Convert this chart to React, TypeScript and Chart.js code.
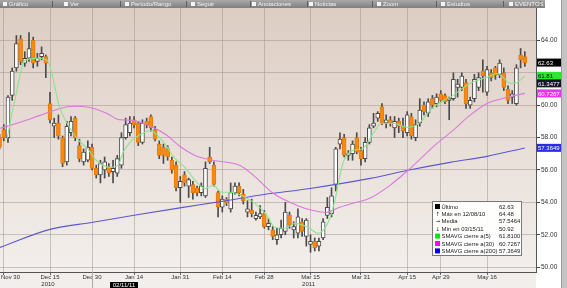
import React, { useEffect, useRef } from 'react';
import { Chart, registerables } from 'chart.js';

Chart.register(...registerables);

// ---- price data (trading-day index 0 = Nov 29 2010 ... 125 = May 27 2011)
const opens = [
  58.0, 58.5, 58.0, 60.6, 62.3, 64.1, 62.6, 62.9, 64.0, 62.7,
  63.0, 63.0, 60.1, 58.7, 58.9, 58.0, 56.5, 58.3, 59.2, 57.5,
  56.5, 56.6, 57.4, 56.1, 55.7, 56.0, 56.2, 55.9, 55.8, 56.3,
  58.0, 58.3, 59.1, 58.9, 57.7, 59.0, 59.3, 58.5, 57.6, 57.4,
  57.3, 56.6, 56.3, 54.9, 55.7, 55.0, 55.1, 54.9, 54.6, 54.4,
  56.8, 56.3, 54.6, 53.7, 54.2, 53.6, 54.6, 55.0, 54.5, 53.4,
  53.5, 53.0, 53.1, 53.3, 52.5, 52.3, 51.7, 52.0, 52.2, 53.2,
  52.3, 52.1, 52.8, 51.9, 51.4, 51.6, 51.3, 51.8, 53.2, 53.3,
  55.1, 57.6, 58.0, 56.9, 57.0, 58.0, 57.2, 56.7, 57.7, 58.7,
  59.2, 59.9, 58.9, 59.1, 58.6, 59.0, 58.7, 58.3, 59.3, 58.0,
  58.9, 60.0, 59.5, 60.4, 60.1, 60.7, 60.6, 60.3, 60.4, 61.1,
  61.1, 61.4, 60.0, 60.4, 61.1, 62.1, 60.8, 62.0, 62.3, 61.9,
  62.0, 61.0, 60.5, 60.1, 63.1, 63.0,
];
const highs = [
  58.2, 58.8, 60.6, 62.3, 64.3, 64.3, 63.3, 64.48, 64.2, 63.2,
  63.6, 63.1, 60.8, 59.2, 59.4, 58.1, 59.0, 59.3, 59.3, 57.9,
  57.3, 57.8, 57.6, 56.3, 56.6, 56.8, 56.4, 56.6, 56.9, 58.3,
  59.2, 59.3, 59.3, 59.0, 59.1, 59.2, 59.4, 58.7, 57.8, 57.6,
  57.5, 56.8, 56.5, 55.6, 55.9, 55.5, 55.3, 55.0, 55.2, 56.5,
  57.4, 56.5, 54.7, 54.4, 54.3, 55.2, 55.2, 55.2, 54.8, 54.1,
  54.2, 53.4, 53.8, 53.5, 53.0, 52.5, 52.4, 52.9, 54.0, 53.4,
  52.8, 53.6, 53.0, 53.0, 52.0, 51.8, 51.8, 53.0, 54.3, 54.9,
  57.4, 58.3, 58.2, 57.2, 57.8, 58.3, 57.4, 58.0, 58.8, 59.5,
  59.6, 60.1, 59.4, 59.3, 59.3, 59.2, 59.2, 59.6, 59.5, 59.1,
  60.4, 60.2, 60.4, 60.6, 60.7, 60.9, 60.7, 60.5, 62.0, 61.6,
  62.0, 61.6, 60.5, 61.9, 62.0, 62.8, 62.4, 62.2, 62.4, 62.8,
  62.3, 61.2, 60.9, 62.5, 63.5, 63.3,
];
const lows = [
  57.3, 57.8, 57.7, 60.3, 62.1, 62.5, 62.4, 62.7, 62.3, 62.4,
  62.8, 61.7, 58.9, 58.0, 57.9, 56.2, 56.3, 58.1, 57.8, 56.5,
  56.3, 56.5, 56.0, 55.5, 55.2, 55.5, 55.6, 55.2, 55.6, 56.1,
  57.9, 58.1, 58.6, 57.5, 57.6, 58.6, 58.4, 57.8, 56.7, 56.4,
  56.6, 55.8, 54.7, 54.0, 55.0, 54.3, 54.2, 54.4, 54.4, 54.3,
  56.4, 55.0, 53.1, 53.4, 53.8, 53.4, 54.5, 54.4, 53.9, 53.1,
  53.1, 52.9, 53.0, 52.4, 52.3, 51.7, 51.4, 51.8, 52.0, 52.4,
  51.8, 51.8, 51.9, 51.3, 50.92, 51.0, 51.0, 51.7, 53.0, 53.1,
  54.7, 57.3, 56.8, 56.6, 56.6, 57.0, 56.3, 56.5, 57.6, 58.6,
  59.0, 58.8, 58.6, 58.7, 58.0, 58.3, 58.0, 58.1, 57.9, 57.8,
  58.7, 59.4, 59.3, 59.8, 59.9, 60.2, 60.1, 59.1, 60.3, 60.5,
  60.9, 59.8, 59.8, 60.2, 60.9, 60.8, 60.6, 61.5, 61.6, 61.7,
  60.9, 60.1, 60.1, 60.0, 62.3, 62.4,
];
const closes = [
  57.4, 58.0, 60.5, 62.1, 63.8, 62.7, 62.9, 63.5, 62.6, 62.9,
  63.2, 62.6, 59.1, 58.9, 58.1, 56.4, 58.7, 59.0, 58.0, 56.7,
  57.1, 57.4, 56.1, 55.7, 56.4, 56.5, 55.8, 56.1, 56.7, 58.0,
  58.8, 58.9, 58.8, 57.7, 58.9, 58.8, 58.6, 57.9, 56.9, 56.9,
  56.8, 56.0, 54.9, 55.3, 55.2, 55.4, 54.6, 54.6, 55.0, 56.1,
  56.5, 55.1, 53.7, 54.2, 53.95, 54.6, 55.0, 54.6, 54.1, 53.6,
  53.3, 53.2, 53.3, 52.5, 52.7, 51.9, 52.0, 52.4, 53.4, 52.6,
  52.5, 53.1, 52.2, 52.9, 51.6, 51.2, 51.6, 52.8, 53.7, 54.4,
  57.3, 57.9, 56.9, 57.0, 57.6, 57.1, 56.7, 57.7, 58.6, 58.9,
  59.5, 58.9, 59.1, 58.9, 59.0, 58.7, 58.4, 59.4, 58.1, 58.8,
  59.7, 59.6, 60.2, 60.0, 60.5, 60.3, 60.2, 60.4, 61.6, 61.3,
  61.8, 60.1, 60.3, 61.6, 61.7, 61.8, 62.2, 61.7, 61.85, 62.6,
  61.1, 60.3, 60.7, 62.3, 62.8, 62.63,
];

// ---- moving averages (trading-day index, value)
const sma5Idx = [1.8, 3.7, 6.05, 9, 11.3, 14.4, 18.4, 21, 23, 26.3, 28.2, 29.4, 31.5, 34.1, 35.8, 38.7, 41.7, 44.1, 46.5, 48.9, 50.8, 52.9, 55.3, 58.4, 60.8, 63.6, 65.5, 67.9, 70.3, 73.4, 75.8, 77.4, 78.6, 79.8, 81.7, 84.1, 86.5, 88.9, 91.0, 93.6, 97.0, 100.1, 102.4, 104.8, 107.2, 112.0, 116.0, 118.4, 119.8, 121.5, 123.1, 125];
const sma5Val = [57.95, 60.4, 62.77, 62.9, 62.77, 59.8, 57.95, 57.3, 56.6, 56.16, 56.28, 57.09, 57.83, 58.26, 58.44, 57.83, 56.72, 56.16, 55.36, 54.86, 55.05, 54.62, 54.62, 54.31, 53.94, 53.2, 52.46, 52.4, 52.7, 52.46, 52.09, 52.4, 53.0, 54.12, 56.4, 57.2, 57.33, 58.26, 58.88, 58.88, 58.63, 58.94, 59.68, 60.17, 60.48, 61.35, 61.72, 61.96, 61.72, 61.35, 61.4, 61.81];

const sma30Idx = [0.1, 4.9, 9.6, 14.4, 17.5, 21.5, 25.6, 28.2, 31.8, 36.5, 39.8, 42.9, 46.5, 50.8, 57.2, 60.3, 65.1, 70.8, 74.6, 77.9, 80.3, 84.1, 88.1, 92.9, 97.2, 104.1, 107.9, 111.9, 116, 120.8, 125];
const sma30Val = [58.57, 58.94, 59.37, 59.8, 59.93, 59.86, 59.49, 59.12, 59.06, 58.63, 58.14, 57.46, 56.9, 56.6, 56.28, 55.7, 54.56, 53.81, 53.5, 53.38, 53.63, 53.94, 54.25, 55.05, 55.98, 57.64, 58.44, 59.37, 60.11, 60.48, 60.73];

const sma200Idx = [0.1, 12, 22.2, 32, 42.9, 52.9, 62.9, 73.9, 88.2, 97.2, 107.2, 116, 125];
const sma200Val = [51.22, 52.33, 52.77, 53.2, 53.66, 54.06, 54.49, 54.86, 55.48, 55.98, 56.47, 56.84, 57.36];

// ---- axis labels
const tickIdx = [1, 12, 22, 32, 43, 53, 63, 74, 86, 97, 105, 116];
const tickLabels = ['Nov 30', 'Dec 15', 'Dec 30', 'Jan 14', 'Jan 31', 'Feb 14', 'Feb 28', 'Mar 15', 'Mar 31', 'Apr 15', 'Apr 29', 'May 16'];
const yearIdx = [12, 74];
const yearLabels = ['2010', '2011'];
const yTicks = [50, 52, 54, 56, 58, 60, 62, 64];
const yHiddenLabels = [62];

// ---- legend / badges
const legendLabels = ['Último', 'Máx en 12/08/10', 'Media', 'Mín en 03/15/11', 'SMAVG cierre a(5)', 'SMAVG cierre a(30)', 'SMAVG cierre a(200)'];
const legendValues = ['62.63', '64.48', '57.5464', '50.92', '61.8100', '60.7267', '57.3649'];
const badgeValues = [62.63, 61.81, 61.3477, 60.7267, 57.3649];
const badgeTexts = ['62.63', '61.81', '61.3477', '60.7267', '57.3649'];
const toolItems = ['Gráfico', 'Ver', 'Período/Rango', 'Seguir', 'Anotaciones', 'Noticias', 'Zoom', 'Estudios', 'EVENTOS'];

// ---- styling (not data)
const C_GREEN = '#8ee38e';
const C_MAG = '#d97ad9';
const C_BLUE = '#5d56d6';
const C_ORANGE = '#f88a12';
const toolX = [9, 70, 131, 197, 258, 315, 383, 447, 515];
const toolDiv = [52, 120, 186, 250, 307, 372, 436, 503, 540];
const badgeBg = ['#000000', '#2ee82e', '#14142a', '#f030f0', '#2a2ae8'];
const badgeFg = ['#ffffff', '#000000', '#ffffff', '#ffffff', '#ffffff'];
const legendSwatch = ['#000000', null, null, null, '#00ee00', '#ff00ff', '#0000ff'];
const legendGlyph = [null, '↑', '→', '↓', null, null, null];

const bgPlugin = {
  id: 'bgPlugin',
  beforeDraw(chart: any) {
    const { ctx, chartArea: a, width, height } = chart;
    ctx.save();
    ctx.fillStyle = '#ffffff';
    ctx.fillRect(0, 0, width, height);
    ctx.fillStyle = '#f1eeec';
    ctx.fillRect(0, a.bottom, a.right, height - a.bottom);
    const g = ctx.createLinearGradient(0, a.top, 0, a.bottom);
    g.addColorStop(0, '#ddcdc3');
    g.addColorStop(1, '#f3efec');
    ctx.fillStyle = g;
    ctx.fillRect(a.left, a.top, a.right - a.left, a.bottom - a.top);
    // right scrollbar strip
    ctx.fillStyle = '#c4c4c4';
    ctx.fillRect(561, 0, width - 561, height);
    ctx.fillStyle = '#9a9a9a';
    ctx.fillRect(561, 0, 1, height);
    // toolbar
    const tg = ctx.createLinearGradient(0, 0, 0, a.top);
    tg.addColorStop(0, '#a9a9a9');
    tg.addColorStop(1, '#7f7f7f');
    ctx.fillStyle = tg;
    ctx.fillRect(0, 0, 545, a.top);
    ctx.fillStyle = '#5e5e5e';
    toolDiv.forEach((x) => ctx.fillRect(x, 1, 1, a.top - 2));
    ctx.font = '6px "Liberation Sans"';
    ctx.textBaseline = 'middle';
    ctx.textAlign = 'left';
    ctx.fillStyle = '#f4f4f4';
    toolItems.forEach((t, k) => {
      ctx.fillRect(toolX[k] - 6, 2, 4, 4);
      ctx.fillText(t, toolX[k], a.top / 2);
    });
    ctx.restore();
  },
};

const overlayPlugin = {
  id: 'overlayPlugin',
  afterDraw(chart: any) {
    const { ctx, chartArea: a, height } = chart;
    const xs = chart.scales.x;
    const ys = chart.scales.y;
    ctx.save();
    // x labels
    ctx.font = '6px "Liberation Sans"';
    ctx.fillStyle = '#333333';
    ctx.textBaseline = 'middle';
    ctx.textAlign = 'center';
    tickIdx.forEach((v, k) => {
      const w = ctx.measureText(tickLabels[k]).width;
      const px = Math.max(xs.getPixelForValue(v), 1 + w / 2);
      ctx.fillText(tickLabels[k], px, a.bottom + 5);
    });
    yearIdx.forEach((v, k) => {
      ctx.fillText(yearLabels[k], xs.getPixelForValue(v) - 2, a.bottom + 12.5);
    });
    // year separator under the axis
    ctx.fillStyle = '#b0aaa6';
    ctx.fillRect(Math.round(xs.getPixelForValue(22)), a.bottom, 1, height - a.bottom);
    // cursor date box
    ctx.fillStyle = '#000000';
    ctx.fillRect(110, a.bottom + 10, 28, height - a.bottom - 10);
    ctx.fillStyle = '#ffffff';
    ctx.fillText('02/11/11', 124, a.bottom + 13.5);

    // price badges on the right axis
    ctx.font = '6px "Liberation Sans"';
    ctx.textAlign = 'left';
    badgeValues.forEach((v, k) => {
      const py = ys.getPixelForValue(v);
      ctx.fillStyle = badgeBg[k];
      ctx.fillRect(a.right + 1, py - 4, 24, 8);
      ctx.fillStyle = badgeFg[k];
      ctx.fillText(badgeTexts[k], a.right + 2, py + 0.5);
    });

    // legend box
    const lx = 432, ly = 201, lw = 89, lh = 54;
    ctx.fillStyle = 'rgba(255,255,255,0.93)';
    ctx.fillRect(lx, ly, lw, lh);
    ctx.strokeStyle = '#7a7a7a';
    ctx.lineWidth = 1;
    ctx.strokeRect(lx + 0.5, ly + 0.5, lw, lh);
    ctx.font = '5.9px "Liberation Sans"';
    legendLabels.forEach((t, k) => {
      const ry = ly + 5.5 + k * 7.4;
      if (legendSwatch[k]) {
        ctx.fillStyle = legendSwatch[k] as string;
        ctx.fillRect(lx + 3, ry - 2.5, 5, 5);
      }
      ctx.fillStyle = '#222222';
      if (legendGlyph[k]) {
        ctx.font = '5.5px "DejaVu Sans"';
        ctx.fillText(legendGlyph[k] as string, lx + 3.5, ry + 0.5);
        ctx.font = '5.9px "Liberation Sans"';
      }
      ctx.fillText(t, lx + 9.5, ry + 0.5);
      ctx.fillText(legendValues[k], lx + 67, ry + 0.5);
    });
    ctx.restore();
  },
};

export default function App() {
  const ref = useRef<HTMLCanvasElement | null>(null);
  useEffect(() => {
    document.body.style.margin = '0';
    const canvas = ref.current;
    if (!canvas) return;
    const bodyColors = closes.map((c, i) => (c >= opens[i] ? '#ffffff' : C_ORANGE));
    const bodyBorders = closes.map((c, i) => (c >= opens[i] ? '#4a4a4a' : '#e87a08'));
    const chart = new Chart(canvas, {
      type: 'bar',
      data: {
        datasets: [
          {
            type: 'line',
            label: 'SMAVG(5)',
            data: sma5Idx.map((x, k) => ({ x, y: sma5Val[k] })),
            borderColor: C_GREEN,
            borderWidth: 1.1,
            pointRadius: 0,
            cubicInterpolationMode: 'monotone',
            order: 0,
          } as any,
          {
            type: 'line',
            label: 'SMAVG(30)',
            data: sma30Idx.map((x, k) => ({ x, y: sma30Val[k] })),
            borderColor: C_MAG,
            borderWidth: 1.1,
            pointRadius: 0,
            cubicInterpolationMode: 'monotone',
            order: 0,
          } as any,
          {
            type: 'line',
            label: 'SMAVG(200)',
            data: sma200Idx.map((x, k) => ({ x, y: sma200Val[k] })),
            borderColor: C_BLUE,
            borderWidth: 1.1,
            pointRadius: 0,
            cubicInterpolationMode: 'monotone',
            order: 0,
          } as any,
          {
            type: 'bar',
            label: 'body',
            data: opens.map((o, i) => ({ x: i, y: [o, closes[i]] })),
            backgroundColor: bodyColors,
            borderColor: bodyBorders,
            borderWidth: 1,
            borderSkipped: false,
            barThickness: 4,
            grouped: false,
            order: 1,
          } as any,
          {
            type: 'bar',
            label: 'wick',
            data: lows.map((l, i) => ({ x: i, y: [l, highs[i]] })),
            backgroundColor: '#4a4a4a',
            borderWidth: 0,
            barThickness: 1,
            grouped: false,
            order: 2,
          } as any,
        ],
      },
      options: {
        animation: false,
        responsive: false,
        maintainAspectRatio: false,
        layout: { padding: { top: 8, left: 0, right: 0, bottom: 0 } },
        plugins: { legend: { display: false }, tooltip: { enabled: false } },
        scales: {
          x: {
            type: 'linear',
            min: 0.1,
            max: 127.66,
            offset: false,
            grid: { color: 'rgba(150,138,130,0.45)', offset: false, drawTicks: true, tickLength: 3, tickColor: '#666' },
            border: { color: '#555555' },
            ticks: { display: false },
            afterBuildTicks: (s: any) => {
              s.ticks = tickIdx.map((v) => ({ value: v }));
            },
            afterFit: (s: any) => {
              s.height = 16;
            },
          },
          y: {
            position: 'right',
            min: 49.7,
            max: 66,
            grid: { color: 'rgba(150,138,130,0.45)', drawTicks: true, tickLength: 4, tickColor: '#444' },
            border: { color: '#555555' },
            ticks: {
              font: { size: 6.5, family: '"Liberation Sans"' },
              color: '#333333',
              padding: 1,
              callback: (v: any) => (yHiddenLabels.includes(Number(v)) ? '' : Number(v).toFixed(2)),
            },
            afterBuildTicks: (s: any) => {
              s.ticks = yTicks.map((v) => ({ value: v }));
            },
            afterFit: (s: any) => {
              s.width = 31;
            },
          },
        },
      } as any,
      plugins: [bgPlugin, overlayPlugin],
    });
    return () => chart.destroy();
  }, []);
  return (
    <div style={{ position: 'relative', width: 567, height: 288 }}>
      <canvas ref={ref} width={567} height={288} style={{ display: 'block', width: 567, height: 288 }} />
    </div>
  );
}
